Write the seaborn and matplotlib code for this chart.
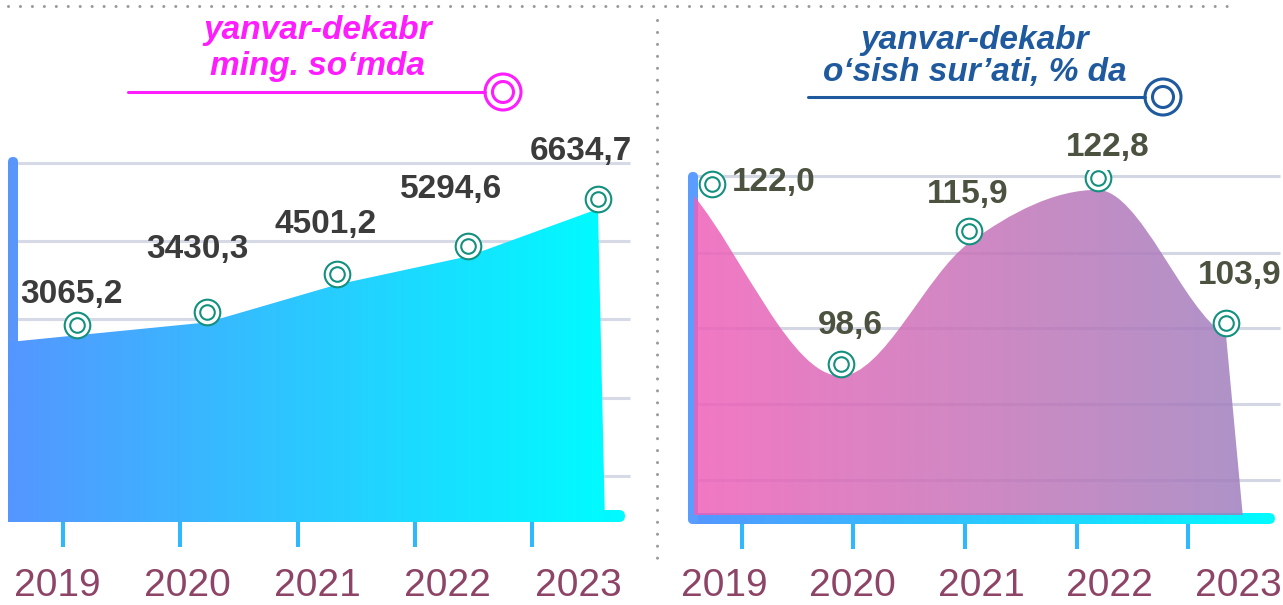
import numpy as np
import matplotlib
matplotlib.use('Agg')
import matplotlib.pyplot as plt
import seaborn as sns
from matplotlib.colors import LinearSegmentedColormap
from matplotlib.patches import FancyBboxPatch, PathPatch, Circle
from matplotlib.path import Path
from matplotlib.transforms import ScaledTranslation

sns.set_theme(style='white')
plt.rcParams['font.family'] = ['Liberation Sans', 'DejaVu Sans']

# data
years = ['2019', '2020', '2021', '2022', '2023']
income = [3065.2, 3430.3, 4501.2, 5294.6, 6634.7]        # ming. so'mda
growth = [122.0, 98.6, 115.9, 122.8, 103.9]              # o'sish sur'ati, %
income_txt = ['3065,2', '3430,3', '4501,2', '5294,6', '6634,7']
growth_txt = ['122,0', '98,6', '115,9', '122,8', '103,9']

# layout (pixels, y down, relative to the ring markers)
W, H = 1283, 605
income_lab_off = [(-6, -31), (-10, -63), (-12, -50), (-17, -57), (-17, -47)]
growth_lab_off = [(62, -2), (10, -39), (-1, -36), (10, -30), (14, -48)]

fig = plt.figure(figsize=(W / 100, H / 100), dpi=100)


def px_axes(x0, y0, x1, y1, z):
    a = fig.add_axes([x0 / W, 1 - y1 / H, (x1 - x0) / W, (y1 - y0) / H])
    a.set_zorder(z)
    a.patch.set_alpha(0)
    return a


def shift(dx, dy):
    return ScaledTranslation(dx / 100, -dy / 100, fig.dpi_scale_trans)


# background / decoration layer in pixel coords
ax_o = px_axes(0, 0, W, H, 0)
ax_o.axis('off')

grad = np.linspace(0, 1, 256).reshape(1, -1)
blue_cyan = LinearSegmentedColormap.from_list('bc', ['#5596ff', '#00fbff'])
pink_purple = LinearSegmentedColormap.from_list('pp', ['#f060b8', '#c873b8', '#a080be'])

# dotted separators
ax_o.plot([8, 1230], [6, 6], color='#9a9a9a', lw=2.2, ls=(0, (0.01, 3.9)), dash_capstyle='round')
ax_o.plot([657, 657], [20, 562], color='#9a9a9a', lw=2.2, ls=(0, (0.01, 3.9)), dash_capstyle='round')

# titles
title_kw = dict(ha='center', va='center', fontsize=24, fontweight='bold', style='italic')
ax_o.text(318, 30, 'yanvar-dekabr', color='#ff1cff', **title_kw)
ax_o.text(318, 67, 'ming. so‘mda', color='#ff1cff', **title_kw)
ax_o.text(975, 40, 'yanvar-dekabr', color='#1f5a9e', **title_kw)
ax_o.text(975, 72, 'o‘sish sur’ati, % da', color='#1f5a9e', **title_kw)

for (lx0, lx1, ly, cx, col) in [(128, 485, 92, 503, '#ff1cff'), (808, 1145, 97, 1163, '#1f5a9e')]:
    ax_o.plot([lx0, lx1], [ly, ly], color=col, lw=2.2)
    ax_o.add_patch(Circle((cx, ly), 18, fc='white', ec=col, lw=2.2))
    ax_o.add_patch(Circle((cx, ly), 10.5, fc='white', ec=col, lw=2.2))

# grid lines
ax_o.hlines([163, 241, 319, 398, 476], 8, 630, color='#d6d9e6', lw=2.2)
ax_o.hlines([176, 253, 328, 404, 480], 690, 1280, color='#d3d6e3', lw=2.2)

# axis bars
for (bx0, bx1, by0, by1) in [(8, 625, 510, 522), (688, 1275, 513, 524)]:
    im = ax_o.imshow(grad, extent=[bx0, bx1, by1, by0], aspect='auto', cmap=blue_cyan, zorder=1)
    bar = FancyBboxPatch((bx0, by0), bx1 - bx0, by1 - by0, boxstyle='round,pad=0,rounding_size=6',
                         fc='none', ec='none')
    ax_o.add_patch(bar)
    im.set_clip_path(bar)
ax_o.add_patch(FancyBboxPatch((8, 157), 10, 365, boxstyle='round,pad=0,rounding_size=5',
                              fc='#5a96fa', ec='none', zorder=2))
ax_o.add_patch(FancyBboxPatch((688, 172), 10, 352, boxstyle='round,pad=0,rounding_size=5',
                              fc='#5a9cff', ec='none', zorder=2))
ax_o.set_xlim(0, W)
ax_o.set_ylim(H, 0)

# tick marks
for (tx0, tx1, ty, xl) in [(8, 625, 522, (-0.469, 4.793)), (688, 1275, 524, (-0.484, 4.780))]:
    ax_t = px_axes(tx0, ty - 2, tx1, ty, 1)
    ax_t.set_xlim(*xl)
    ax_t.set_xticks(range(len(years)))
    ax_t.set_yticks([])
    ax_t.tick_params(axis='x', length=18, width=2.9, color='#30b8ff', labelbottom=False, bottom=True)
    for s in ax_t.spines.values():
        s.set_visible(False)

xs = np.arange(len(years))
year_kw = dict(ha='center', va='baseline', fontsize=28, color='#8d4466')
ring_col = '#14907f'
val_kw = dict(textcoords='offset points', ha='center', va='center', fontsize=24, fontweight='bold')

# ---- left panel: income area
ax1 = px_axes(8, 160, 630, 522, 2)
ax1.axis('off')
ylo1, yhi1 = -2211, 8018
x_left, x_drop = -0.530, 4.054
y_left = income[0] - (income[1] - income[0]) * (0 - x_left)
poly = ax1.fill_between([x_left, *xs, x_drop], [y_left, *income, ylo1], ylo1, color='none')
im1 = ax1.imshow(grad, extent=[x_left, x_drop, ylo1, yhi1], aspect='auto', cmap=blue_cyan, zorder=1)
im1.set_clip_path(poly.get_paths()[0], ax1.transData)
ax1.set_xlim(-0.530, 4.246)
ax1.set_ylim(ylo1, yhi1)

sns.scatterplot(x=xs, y=income, ax=ax1, s=340, color='white', edgecolor=ring_col, linewidth=1.5, zorder=5, legend=False)
sns.scatterplot(x=xs, y=income, ax=ax1, s=110, color='white', edgecolor=ring_col, linewidth=1.5, zorder=6, legend=False)
for c in ax1.collections[-2:]:
    c.set_offset_transform(ax1.transData + shift(0, -10))
for i, (v, t) in enumerate(zip(income, income_txt)):
    dx, dy = income_lab_off[i]
    ax1.annotate(t, (xs[i], v), xytext=(dx * 0.72, -(dy - 10) * 0.72), color='#3b3b3b', **val_kw)
for i, y in enumerate(years):
    ax1.text(xs[i], 0, y, transform=ax1.get_xaxis_transform() + shift(-20, 74), **year_kw)

# ---- right panel: growth area (smooth)
ax2 = px_axes(688, 170, 1280, 515, 2)
ax2.axis('off')
ylo2, yhi2 = 80.53, 125.38
x0s, x_end = -0.14, 4.13
kx = [x0s, 1, 2, 3, 4]
ky = list(growth)
d = [(ky[i + 1] - ky[i]) / (kx[i + 1] - kx[i]) for i in range(len(kx) - 1)]
m = [d[0]]
for i in range(1, len(kx) - 1):
    m.append(0.0 if d[i - 1] * d[i] <= 0 else (d[i - 1] + d[i]) / 2)
m.append(0.5 * d[-1])
verts = [(x0s, ylo2), (kx[0], ky[0])]
codes = [Path.MOVETO, Path.LINETO]
for i in range(len(kx) - 1):
    h = kx[i + 1] - kx[i]
    verts += [(kx[i] + h / 3, ky[i] + m[i] * h / 3),
              (kx[i + 1] - h / 3, ky[i + 1] - m[i + 1] * h / 3),
              (kx[i + 1], ky[i + 1])]
    codes += [Path.CURVE4] * 3
verts += [(x_end, ylo2), (x0s, ylo2)]
codes += [Path.LINETO, Path.CLOSEPOLY]
area = PathPatch(Path(verts, codes), fc='none', ec='none')
ax2.add_patch(area)
im2 = ax2.imshow(grad, extent=[x0s, x_end, ylo2, yhi2], aspect='auto', cmap=pink_purple, alpha=0.85, zorder=1)
im2.set_clip_path(area)
ax2.set_xlim(-0.187, 4.420)
ax2.set_ylim(ylo2, yhi2)

sns.scatterplot(x=xs, y=growth, ax=ax2, s=340, color='white', edgecolor=ring_col, linewidth=1.5, zorder=5, legend=False)
sns.scatterplot(x=xs, y=growth, ax=ax2, s=110, color='white', edgecolor=ring_col, linewidth=1.5, zorder=6, legend=False)
for c in ax2.collections[-2:]:
    c.set_offset_transform(ax2.transData + shift(0, -12))
for i, (v, t) in enumerate(zip(growth, growth_txt)):
    dx, dy = growth_lab_off[i]
    ax2.annotate(t, (xs[i], v), xytext=(dx * 0.72, -(dy - 12) * 0.72), color='#4b5340', **val_kw)
for i, y in enumerate(years):
    ax2.text(xs[i], 0, y, transform=ax2.get_xaxis_transform() + shift(12, 81), **year_kw)

fig.savefig('out.png', dpi=100)
